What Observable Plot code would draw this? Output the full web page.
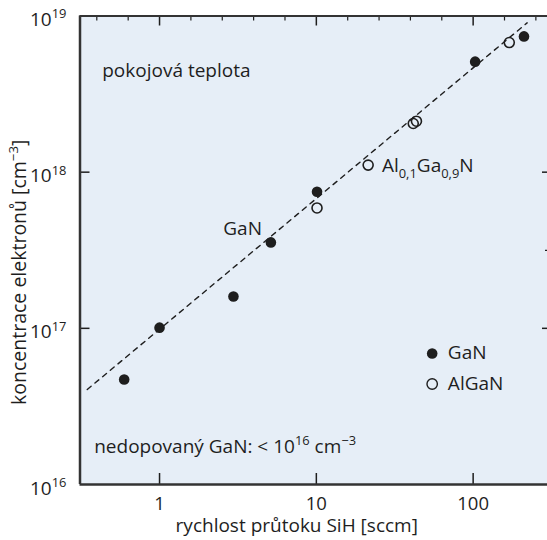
<!DOCTYPE html>
<html><head><meta charset="utf-8">
<script src="https://cdn.jsdelivr.net/npm/d3@7"></script>
<script src="https://cdn.jsdelivr.net/npm/@observablehq/plot@0.6"></script>
<style>
  html,body{margin:0;padding:0;background:#fff;}
  #chart svg{display:block;}
</style>
</head><body><div id="chart"></div>
<script>
// ---- data ----
const ganFlow   = [0.595, 1.0, 2.96, 5.13, 10.1, 103, 211];
const ganConc   = [4.7e16, 1.01e17, 1.6e17, 3.55e17, 7.5e17, 5.1e18, 7.4e18];
const alganFlow = [10.1, 21.4, 41.5, 43.5, 170];
const alganConc = [5.9e17, 1.11e18, 2.05e18, 2.12e18, 6.76e18];
const fitFlow   = [0.346, 221];
const fitConc   = [4.06e16, 9.04e18];

const xTickValues = [1, 10, 100];
const xTickLabels = ["1", "10", "100"];
const yTickValues = [1e16, 1e17, 1e18, 1e19];
const yTickLabels = ["10^{16}", "10^{17}", "10^{18}", "10^{19}"];
const topMinorTicks = [0.398, 0.631, 1.585, 2.512, 3.981, 6.310, 15.85, 25.12, 39.81, 63.10, 158.5, 251.2];
const rightTicks = [1e17, 1e18];
const rightMinorTicks = [3.16e17];

const xTitle = "rychlost průtoku SiH [sccm]";
const yTitle = "koncentrace elektronů [cm^{−3}]";
const legendLabels = ["GaN", "AlGaN"];
const notes = {
  room: "pokojová teplota",
  gan: "GaN",
  algan: "Al_{0,1}Ga_{0,9}N",
  undoped: "nedopovaný GaN: < 10^{16} cm^{−3}"
};

// ---- build ----
const xDomain = [0.311, 298];
const yDomain = [1e16, 1e19];
const W = 547, H = 540;
const mL = 79.5, mR = 0, mT = 15.5, mB = 56;
const innerW = W - mL - mR, innerH = H - mT - mB;
const ink = "#1e1e1e";
const FS = 19;

const gan = ganFlow.map((x, i) => ({x, y: ganConc[i]}));
const algan = alganFlow.map((x, i) => ({x, y: alganConc[i]}));
const fit = fitFlow.map((x, i) => ({x, y: fitConc[i]}));

const chart = Plot.plot({
  width: W, height: H,
  marginLeft: mL, marginRight: mR, marginTop: mT, marginBottom: mB,
  style: {fontFamily: "'Open Sans', 'Noto Sans', sans-serif", fontSize: FS + "px", color: ink, background: "#fff"},
  x: {type: "log", domain: xDomain, axis: null},
  y: {type: "log", domain: yDomain, axis: null},
  marks: [
    Plot.frame({fill: "#e6eef7", stroke: null}),
    // axes tick labels
    Plot.axisX({ticks: xTickValues, tickFormat: d => xTickLabels[xTickValues.indexOf(d)], tickSize: 0, tickPadding: 12, fontSize: 18.5, label: null}),
    Plot.axisY({ticks: yTickValues, tickFormat: d => yTickLabels[yTickValues.indexOf(d)], tickSize: 0, tickPadding: 13.5, fontSize: FS, dy: 4, label: null}),
    // inward ticks
    Plot.tickX(topMinorTicks, {x: d => d, insetBottom: innerH - 5, stroke: ink, strokeWidth: 1.2}),
    Plot.tickX(xTickValues, {x: d => d, insetBottom: innerH - 10, stroke: ink, strokeWidth: 1.5}),
    Plot.tickX(xTickValues, {x: d => d, insetTop: innerH - 11, stroke: ink, strokeWidth: 1.5}),
    Plot.tickY(rightTicks, {y: d => d, insetRight: innerW - 10, stroke: ink, strokeWidth: 1.5}),
    Plot.tickY(rightTicks, {y: d => d, insetLeft: innerW - 5, stroke: ink, strokeWidth: 1.5}),
    Plot.tickY(rightMinorTicks, {y: d => d, insetLeft: innerW - 2, stroke: ink, strokeWidth: 1.2}),
    // frame edges
    Plot.ruleY([yDomain[1]], {stroke: "#333", strokeWidth: 2}),
    Plot.ruleX([xDomain[0]], {stroke: "#333", strokeWidth: 2.5}),
    Plot.ruleY([yDomain[0]], {stroke: "#333", strokeWidth: 2.5}),
    // fit line
    Plot.line(fit, {x: "x", y: "y", stroke: ink, strokeWidth: 1.4, strokeDasharray: "5,5"}),
    // data
    Plot.dot(algan, {x: "x", y: "y", r: 5, fill: "none", stroke: ink, strokeWidth: 1.6}),
    Plot.dot(gan, {x: "x", y: "y", r: 5.3, fill: ink, stroke: null}),
    // legend
    Plot.dot([{x: 54.8, y: 6.9e16}], {x: "x", y: "y", r: 5.3, fill: ink, stroke: null}),
    Plot.dot([{x: 54.8, y: 4.4e16}], {x: "x", y: "y", r: 5.2, fill: "none", stroke: ink, strokeWidth: 1.4}),
    Plot.text([legendLabels[0]], {x: 69, y: 6.95e16, text: d => d, textAnchor: "start", fontSize: FS, fill: ink}),
    Plot.text([legendLabels[1]], {x: 69, y: 4.4e16, text: d => d, textAnchor: "start", fontSize: FS, fill: ink}),
    // annotations
    Plot.text([notes.room], {x: 0.431, y: 4.45e18, text: d => d, textAnchor: "start", fontSize: FS, fill: ink}),
    Plot.text([notes.gan], {x: 2.55, y: 4.35e17, text: d => d, textAnchor: "start", fontSize: FS, fill: ink}),
    Plot.text([notes.algan], {x: 26.2, y: 1.09e18, text: d => d, textAnchor: "start", fontSize: FS, fill: ink}),
    Plot.text([notes.undoped], {x: 0.383, y: 1.74e16, text: d => d, textAnchor: "start", fontSize: FS, fill: ink}),
    // axis titles
    Plot.text([xTitle], {frameAnchor: "bottom", textAnchor: "middle", text: d => d, dx: -17, dy: 47, fontSize: FS, fill: ink}),
    Plot.text([yTitle], {frameAnchor: "left", textAnchor: "middle", text: d => d, rotate: -90, dx: -60, dy: 22, fontSize: 19.5, fill: ink})
  ]
});

document.getElementById("chart").appendChild(chart);

// rich text: ^{..} superscript, _{..} subscript
function richify(el) {
  const s = el.textContent;
  if (!/[\^_]\{/.test(s)) return;
  const base = parseFloat(getComputedStyle(el).fontSize) || FS;
  el.textContent = "";
  const re = /([\^_])\{([^}]*)\}/g;
  let last = 0, m, offset = 0;
  const add = (txt, shift, small) => {
    if (!txt) return;
    const t = document.createElementNS("http://www.w3.org/2000/svg", "tspan");
    const dy = shift - offset;
    if (dy) t.setAttribute("dy", dy);
    if (small) t.setAttribute("font-size", (base * 0.68).toFixed(2));
    t.textContent = txt;
    el.appendChild(t);
    offset = shift;
  };
  while ((m = re.exec(s))) {
    add(s.slice(last, m.index), 0, false);
    add(m[2], m[1] === "^" ? -0.4 * base : 0.28 * base, true);
    last = re.lastIndex;
  }
  add(s.slice(last), 0, false);
}
chart.querySelectorAll("text").forEach(richify);
</script>
</body></html>
